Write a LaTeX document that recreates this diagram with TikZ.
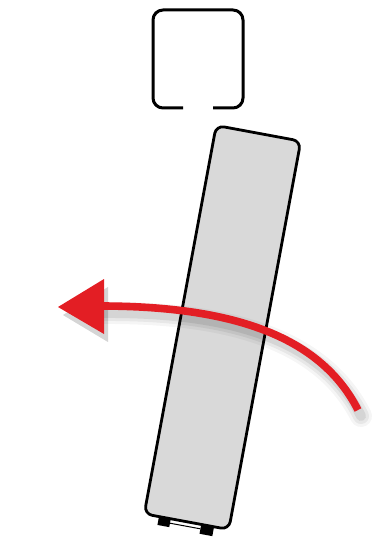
\documentclass[tikz,border=0pt]{standalone}
\usepackage{tikz}
\usetikzlibrary{calc}
\definecolor{arrowred}{RGB}{227,30,36}
\definecolor{plategray}{RGB}{217,217,217}

\begin{document}
\begin{tikzpicture}[x=0.5pt,y=-0.5pt]
    \useasboundingbox (0,0) rectangle (388,555);
    % open profile at the top
	\draw[line width=1.5pt,rounded corners=5pt] (183,108) -| (153,10) -| (243,108) -- (213,108);
    % tilted plate
    \begin{scope}[shift={(222.5,327.5)},rotate=-10.5]
    \fill (-28,196) rectangle (-16,206);
    \fill (15,196) rectangle (28,207);
    \draw[line width=0.5pt] (-16,202)--(15,202);
	\draw[line width=1.4pt,fill=plategray,rounded corners=4pt] (-43,-197.5) rectangle (43,197.5);
    \end{scope}
    % shadow of the arrow
    \foreach \w/\o in {11pt/0.04,8pt/0.06,5pt/0.08}{
      \draw[black,opacity=\o,line width=\w,line cap=round] (361,416) .. controls (323,341) and (233,312) .. (103,313);
      \fill[black,opacity=\o] (63,315) -- (108,287) -- (108,342) -- cycle;
    }
    % red arrow
      \draw[arrowred,line width=3.8pt] (358,410) .. controls (320,335) and (230,306) .. (100,306);
      \fill[arrowred] (58,307) -- (104,279) -- (104,334) -- cycle;
	\end{tikzpicture}
\end{document}
